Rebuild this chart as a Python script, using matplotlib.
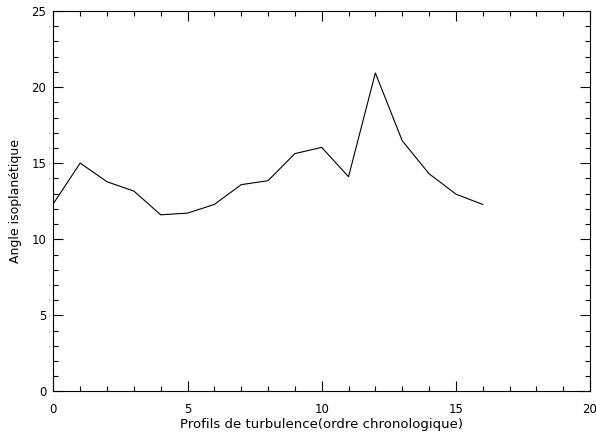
import matplotlib
matplotlib.use('Agg')
import matplotlib.pyplot as plt
from matplotlib.ticker import MultipleLocator

# profils successifs et angle isoplanétique correspondant
profils = [0, 1, 2, 3, 4, 5, 6, 7, 8, 9, 10, 11, 12, 13, 14, 15, 16]
angle = [12.34, 15.01, 13.78, 13.17, 11.61, 11.72, 12.29, 13.59, 13.85,
         15.63, 16.04, 14.11, 20.93, 16.48, 14.31, 12.97, 12.29]

plt.rcParams['font.family'] = ['DejaVu Sans']

fig = plt.figure(figsize=(5.96, 4.32), dpi=100)
ax = fig.add_axes([0.0895, 0.0938, 0.9005, 0.8807])

ax.plot(profils, angle, color='black', linewidth=0.8)

ax.set_xlim(0, 20)
ax.set_ylim(0, 25)
ax.xaxis.set_major_locator(MultipleLocator(5))
ax.xaxis.set_minor_locator(MultipleLocator(1))
ax.yaxis.set_major_locator(MultipleLocator(5))
ax.yaxis.set_minor_locator(MultipleLocator(1))

ax.tick_params(which='both', direction='in', top=True, right=True,
               width=0.8, labelsize=8.5, colors='black')
ax.tick_params(which='major', length=7)
ax.tick_params(which='minor', length=3.5)
ax.tick_params(axis='x', which='major', pad=8)
ax.tick_params(axis='y', which='major', pad=5)

for s in ax.spines.values():
    s.set_linewidth(0.8)

ax.set_xlabel('Profils de turbulence(ordre chronologique)', fontsize=9.5, labelpad=2)
ax.set_ylabel('Angle isoplanétique', fontsize=9, labelpad=7)

fig.savefig('out.png', dpi=100)
